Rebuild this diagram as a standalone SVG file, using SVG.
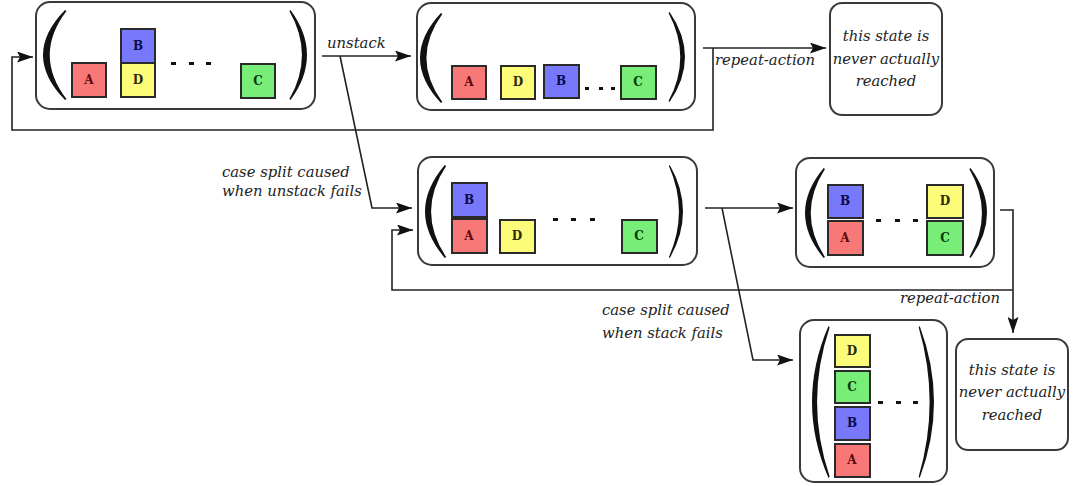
<svg xmlns="http://www.w3.org/2000/svg" width="1073" height="486" viewBox="0 0 1073 486">
  <defs>
    <style>
      .state { fill: #ffffff; stroke: #3a3a3a; stroke-width: 2; }
      .blk { stroke: #2a2a2a; stroke-width: 2; }
      .a { fill: #f87878; }
      .b { fill: #7878fa; }
      .c { fill: #78ee78; }
      .d { fill: #fcfc7a; }
      .lbl { font-family: "DejaVu Serif", "Liberation Serif", serif; font-weight: bold; font-size: 12px; text-anchor: middle; }
      .la { fill: #5a0a0a; }
      .lb { fill: #0a0a4a; }
      .lc { fill: #0a3a0a; }
      .ld { fill: #2a2a0a; }
      .paren { fill: #111111; }
      .dot { fill: #111111; }
      .txt { font-family: "DejaVu Serif", "Liberation Serif", serif; font-style: italic; font-size: 14.8px; fill: #222222; }
      .mid { text-anchor: middle; }
      .conn path { fill: none; stroke: #222222; stroke-width: 1.6; }
    </style>
    <marker id="arrow" viewBox="0 0 16 11" refX="16" refY="5.5" markerWidth="16" markerHeight="11" orient="auto" markerUnits="userSpaceOnUse">
      <path d="M0,0 L16,5.5 L0,11 L3,5.5 Z" fill="#111111"/>
    </marker>
    <!-- left bracket, 100 tall, bulge at x=0, tips at x=22 -->
    <path id="lparen" d="M22,0 Q-22,50 22,100 L23.5,99 Q-10,50 23.5,1 Z"/>
  </defs>

  <!-- connectors -->
  <g id="connectors" class="conn">
    <path d="M322,56 L411,56" marker-end="url(#arrow)"/>
    <path d="M340,56 L372,208 L412,208" marker-end="url(#arrow)"/>
    <path d="M703,48 L826,48" marker-end="url(#arrow)"/>
    <path d="M713,48 L713,130 L12,130 L12,57 L33,57" marker-end="url(#arrow)"/>
    <path d="M705,208 L793,208" marker-end="url(#arrow)"/>
    <path d="M722,208 L753,360 L793,360" marker-end="url(#arrow)"/>
    <path d="M1000,210 L1013,210 L1013,333" marker-end="url(#arrow)"/>
    <path d="M1013,290 L392,290 L392,230 L413,230" marker-end="url(#arrow)"/>
  </g>

  <!-- connector labels -->
  <g id="labels">
    <text class="txt" x="327" y="48">unstack</text>
    <text class="txt" x="715" y="65">repeat-action</text>
    <text class="txt" x="222" y="177">case split caused</text>
    <text class="txt" x="222" y="196">when unstack fails</text>
    <text class="txt" x="900" y="303">repeat-action</text>
    <text class="txt" x="602" y="315">case split caused</text>
    <text class="txt" x="602" y="338">when stack fails</text>
  </g>

  <!-- initial state: B on D, A and C on the table -->
  <g id="state-initial">
    <rect class="state" x="36" y="2" width="279" height="107" rx="14"/>
    <use href="#lparen" class="paren" transform="translate(43,10) scale(1,0.9)"/>
    <use href="#lparen" class="paren" transform="translate(307,10) scale(-0.75,0.9)"/>
    <rect class="blk a" x="72" y="63" width="34" height="34"/>
    <text class="lbl la" x="89" y="84">A</text>
    <rect class="blk b" x="121" y="29" width="34" height="34"/>
    <text class="lbl lb" x="138" y="50">B</text>
    <rect class="blk d" x="121" y="63" width="34" height="34"/>
    <text class="lbl ld" x="138" y="84">D</text>
    <rect class="dot" x="171" y="62" width="5" height="3"/>
    <rect class="dot" x="189" y="62" width="5" height="3"/>
    <rect class="dot" x="206" y="62" width="5" height="3"/>
    <rect class="blk c" x="241" y="64" width="34" height="34"/>
    <text class="lbl lc" x="258" y="85">C</text>
  </g>

  <!-- after unstack: all blocks on the table -->
  <g id="state-unstacked">
    <rect class="state" x="417" y="3" width="278" height="107" rx="14"/>
    <use href="#lparen" class="paren" transform="translate(420,13) scale(0.95,0.9)"/>
    <use href="#lparen" class="paren" transform="translate(685,12) scale(-0.7,0.9)"/>
    <rect class="blk a" x="452" y="66" width="34" height="33"/>
    <text class="lbl la" x="469" y="86">A</text>
    <rect class="blk d" x="501" y="66" width="34" height="33"/>
    <text class="lbl ld" x="518" y="86">D</text>
    <rect class="blk b" x="544" y="65" width="35" height="33"/>
    <text class="lbl lb" x="561" y="85">B</text>
    <rect class="dot" x="585" y="87" width="4" height="3"/>
    <rect class="dot" x="599" y="87" width="4" height="3"/>
    <rect class="dot" x="611" y="87" width="4" height="3"/>
    <rect class="blk c" x="621" y="66" width="35" height="33"/>
    <text class="lbl lc" x="638" y="86">C</text>
  </g>

  <!-- unreachable state after repeated unstack -->
  <g id="state-never-1">
    <rect class="state" x="830" y="3" width="112" height="112" rx="12"/>
    <text class="txt mid" x="886" y="41">this state is</text>
    <text class="txt mid" x="886" y="64">never actually</text>
    <text class="txt mid" x="886" y="86">reached</text>
  </g>

  <!-- B on A, D and C on the table -->
  <g id="state-b-on-a">
    <rect class="state" x="418" y="157" width="279" height="108" rx="14"/>
    <use href="#lparen" class="paren" transform="translate(425,165) scale(0.9,0.93)"/>
    <use href="#lparen" class="paren" transform="translate(683,165) scale(-0.6,0.93)"/>
    <rect class="blk b" x="452" y="183" width="35" height="34"/>
    <text class="lbl lb" x="469" y="204">B</text>
    <rect class="blk a" x="452" y="219" width="35" height="34"/>
    <text class="lbl la" x="469" y="240">A</text>
    <rect class="blk d" x="500" y="220" width="35" height="33"/>
    <text class="lbl ld" x="517" y="240">D</text>
    <rect class="dot" x="553" y="218" width="5" height="3"/>
    <rect class="dot" x="571" y="218" width="5" height="3"/>
    <rect class="dot" x="590" y="218" width="5" height="3"/>
    <rect class="blk c" x="622" y="220" width="35" height="33"/>
    <text class="lbl lc" x="639" y="240">C</text>
  </g>

  <!-- B on A, D on C -->
  <g id="state-two-stacks">
    <rect class="state" x="796" y="158" width="198" height="109" rx="14"/>
    <use href="#lparen" class="paren" transform="translate(805,168) scale(0.85,0.9)"/>
    <use href="#lparen" class="paren" transform="translate(987,168) scale(-0.75,0.9)"/>
    <rect class="blk b" x="828" y="185" width="35" height="33"/>
    <text class="lbl lb" x="845" y="205">B</text>
    <rect class="blk a" x="828" y="221" width="35" height="34"/>
    <text class="lbl la" x="845" y="242">A</text>
    <rect class="dot" x="876" y="219" width="5" height="3"/>
    <rect class="dot" x="895" y="219" width="5" height="3"/>
    <rect class="dot" x="913" y="219" width="5" height="3"/>
    <rect class="blk d" x="927" y="185" width="36" height="33"/>
    <text class="lbl ld" x="945" y="205">D</text>
    <rect class="blk c" x="927" y="221" width="36" height="34"/>
    <text class="lbl lc" x="945" y="242">C</text>
  </g>

  <!-- single tower D/C/B/A -->
  <g id="state-tower">
    <rect class="state" x="800" y="320" width="147" height="162" rx="14"/>
    <use href="#lparen" class="paren" transform="translate(812,326) scale(0.75,1.52)"/>
    <use href="#lparen" class="paren" transform="translate(934,326) scale(-0.65,1.52)"/>
    <rect class="blk d" x="835" y="335" width="35" height="32"/>
    <text class="lbl ld" x="852" y="355">D</text>
    <rect class="blk c" x="835" y="371" width="35" height="32"/>
    <text class="lbl lc" x="852" y="391">C</text>
    <rect class="blk b" x="835" y="407" width="35" height="33"/>
    <text class="lbl lb" x="852" y="427">B</text>
    <rect class="blk a" x="835" y="444" width="35" height="33"/>
    <text class="lbl la" x="852" y="464">A</text>
    <rect class="dot" x="878" y="401" width="5" height="3"/>
    <rect class="dot" x="896" y="401" width="5" height="3"/>
    <rect class="dot" x="913" y="401" width="5" height="3"/>
  </g>

  <!-- unreachable state after repeated stack -->
  <g id="state-never-2">
    <rect class="state" x="956" y="339" width="112" height="111" rx="12"/>
    <text class="txt mid" x="1012" y="375">this state is</text>
    <text class="txt mid" x="1012" y="397">never actually</text>
    <text class="txt mid" x="1012" y="420">reached</text>
  </g>
</svg>
